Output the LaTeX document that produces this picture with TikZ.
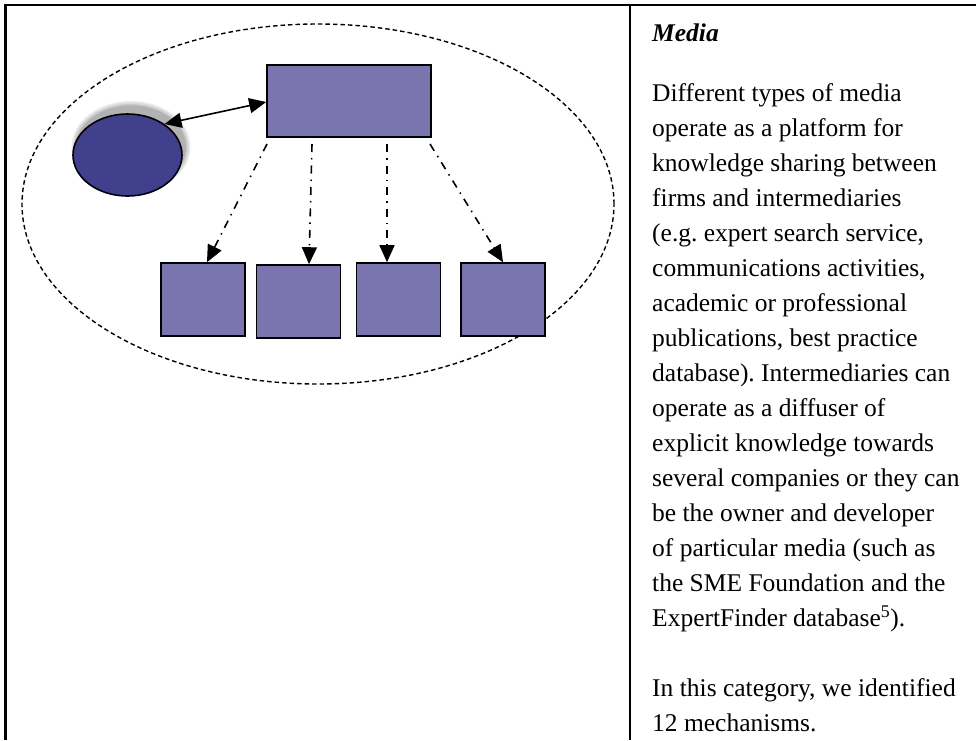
\documentclass[tikz,border=0pt]{standalone}
\usepackage{fontspec}
\setmainfont{Liberation Serif}
\usetikzlibrary{arrows.meta,shapes.geometric}
\definecolor{boxfill}{RGB}{123,117,175}
\definecolor{ovalfill}{RGB}{64,64,140}
\begin{document}
\frenchspacing
\begin{tikzpicture}[x=1pt,y=-1pt,
  frame/.style={line width=2.2pt},
  box/.style={draw=black,line width=1.6pt,fill=boxfill,rectangle,inner sep=0pt},
  tip/.style={-{Triangle[length=17pt,width=15pt]}},
  dashdot/.style={line width=1.6pt,dash pattern=on 8pt off 6pt on 1.5pt off 6pt},
  body/.style={anchor=base west,inner sep=0pt,font=\fontsize{25.5}{35}\selectfont}]
\useasboundingbox (0,0) rectangle (976,740);
% frame
\draw[frame] (4,5) -- (976,5);
\draw[frame] (5.5,4) -- (5.5,740);
\draw[frame] (630,4) -- (630,740);
% dashed ellipse
\node[draw,ellipse,line width=1.4pt,dash pattern=on 4.5pt off 3pt,minimum width=592pt,minimum height=360pt,inner sep=0pt] (outer) at (318,204) {};
% shadow of oval
\foreach \o/\k in {10/8,7/14,4/22,1/30}{
  \fill[black!\k] (131,147) ellipse ({54.5+\o/2} and {41+\o/2});
}
% oval
\node[draw,ellipse,line width=1.6pt,fill=ovalfill,minimum width=109pt,minimum height=82pt,inner sep=0pt] (oval) at (127.5,155) {};
% boxes
\node[box,minimum width=164pt,minimum height=72pt] (top) at (349,101) {};
\node[box,minimum width=84pt,minimum height=73pt] (b1) at (203,299.5) {};
\node[box,minimum width=84pt,minimum height=73pt] (b2) at (298.5,301.5) {};
\node[box,minimum width=84pt,minimum height=73pt] (b3) at (398.5,299.5) {};
\node[box,minimum width=84pt,minimum height=73pt] (b4) at (503,299.5) {};
% connectors
\coordinate (s1) at (267,144);
\coordinate (s2) at (312,144);
\coordinate (s3) at (387,144);
\coordinate (s4) at (430,144);
\draw[line width=1.6pt,{Triangle[length=17pt,width=15pt]}-{Triangle[length=17pt,width=15pt]}] (oval.40) -- (top.west |- 0,102);
\draw[dashdot,tip] (s1) -- (b1.north -| 207,0);
\draw[dashdot,tip] (s2) -- (b2.north -| 309,0);
\draw[dashdot,tip] (s3) -- (b3.north -| 387,0);
\draw[dashdot,tip] (s4) -- (b4.north);
% text
\node[body,font=\fontsize{25.5}{35}\selectfont\bfseries\itshape] (title) at (652,41) {Media};
\node[body,align=left,anchor=north west] (txt) at (652,83) {%
Different types of media\\
operate as a platform for\\
knowledge sharing between\\
firms and intermediaries\\
(e.g. expert search service,\\
communications activities,\\
academic or professional\\
publications, best practice\\
database). Intermediaries can\\
operate as a diffuser of\\
explicit knowledge towards\\
several companies or they can\\
be the owner and developer\\
of particular media (such as\\
the SME Foundation and the\\
ExpertFinder database\textsuperscript{5}).\\[35pt]
In this category, we identified\\
12 mechanisms.};
\end{tikzpicture}
\end{document}
